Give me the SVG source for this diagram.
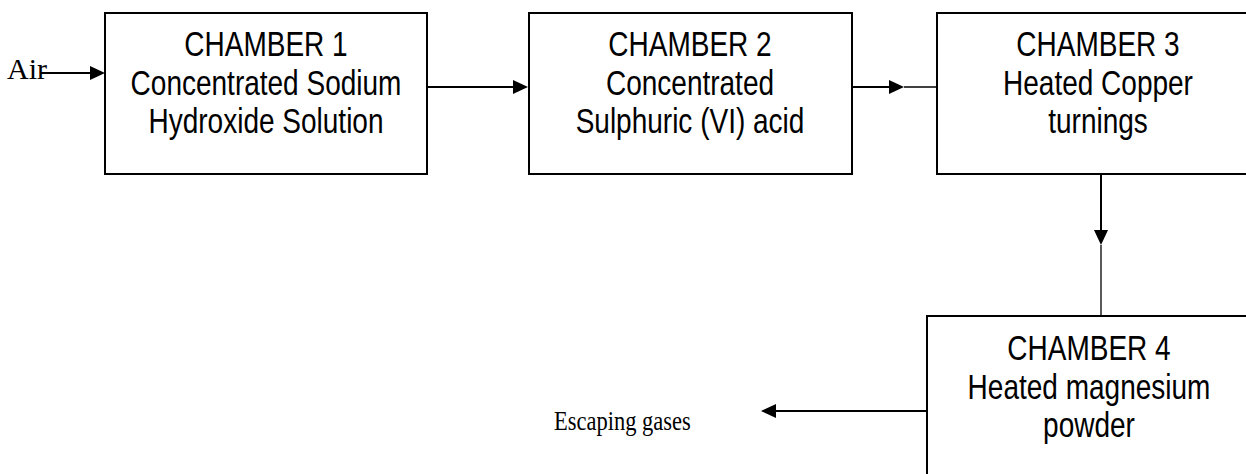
<svg xmlns="http://www.w3.org/2000/svg" width="1246" height="474" viewBox="0 0 1246 474">
<style>
.box{fill:#fff;stroke:#000;stroke-width:2}
.t{font-family:"Liberation Sans",Arial,sans-serif;font-size:28px;fill:#000;text-anchor:middle}
.s{font-family:"Liberation Serif","Times New Roman",serif;fill:#000}
.thick{stroke:#000;stroke-width:2;fill:none}
.thin{stroke:#000;stroke-width:1.3;fill:none}
.head{fill:#000}
</style>
<rect width="1246" height="474" fill="#fff"/>
<g id="air-label"><text class="s" x="7" y="79" font-size="30">Air</text></g>
<g id="chamber1">
<rect class="box" x="105" y="13" width="322" height="161"/>
<text class="t" transform="translate(266 56) scale(1 1.25)">CHAMBER 1</text>
<text class="t" transform="translate(266 95) scale(1 1.25)">Concentrated Sodium</text>
<text class="t" transform="translate(266 133) scale(1 1.25)">Hydroxide Solution</text>
</g>
<g id="chamber2">
<rect class="box" x="529" y="13" width="323" height="161"/>
<text class="t" transform="translate(690 56) scale(1 1.25)">CHAMBER 2</text>
<text class="t" transform="translate(690 95) scale(1 1.25)">Concentrated</text>
<text class="t" transform="translate(690 133) scale(1 1.25)">Sulphuric (VI) acid</text>
</g>
<g id="chamber3">
<rect class="box" x="937" y="13" width="330" height="161"/>
<text class="t" transform="translate(1098 56) scale(1 1.25)">CHAMBER 3</text>
<text class="t" transform="translate(1098 95) scale(1 1.25)">Heated Copper</text>
<text class="t" transform="translate(1098 133) scale(1 1.25)">turnings</text>
</g>
<g id="chamber4">
<rect class="box" x="927" y="316" width="330" height="170"/>
<text class="t" transform="translate(1089 360) scale(1 1.25)">CHAMBER 4</text>
<text class="t" transform="translate(1089 399) scale(1 1.25)">Heated magnesium</text>
<text class="t" transform="translate(1089 437) scale(1 1.25)">powder</text>
</g>
<g id="escaping-label"><text class="s" transform="translate(554 430) scale(1 1.25)" font-size="22.5">Escaping gases</text></g>
<g id="connectors">
<line class="thick" x1="40" y1="73" x2="92" y2="73"/>
<polygon class="head" points="90,66 105,73 90,80"/>
<line class="thick" x1="427" y1="87" x2="515" y2="87"/>
<polygon class="head" points="513,80 528,87 513,94"/>
<line class="thick" x1="852" y1="87" x2="891" y2="87"/>
<polygon class="head" points="889,80 904,87 889,94"/>
<line class="thin" x1="904" y1="87" x2="937" y2="87"/>
<line class="thick" x1="1101" y1="174" x2="1101" y2="232"/>
<polygon class="head" points="1094,230 1101,245 1108,230"/>
<line class="thin" x1="1101" y1="245" x2="1101" y2="316"/>
<line class="thick" x1="927" y1="411" x2="774" y2="411"/>
<polygon class="head" points="776,404 761,411 776,418"/>
</g>
</svg>
